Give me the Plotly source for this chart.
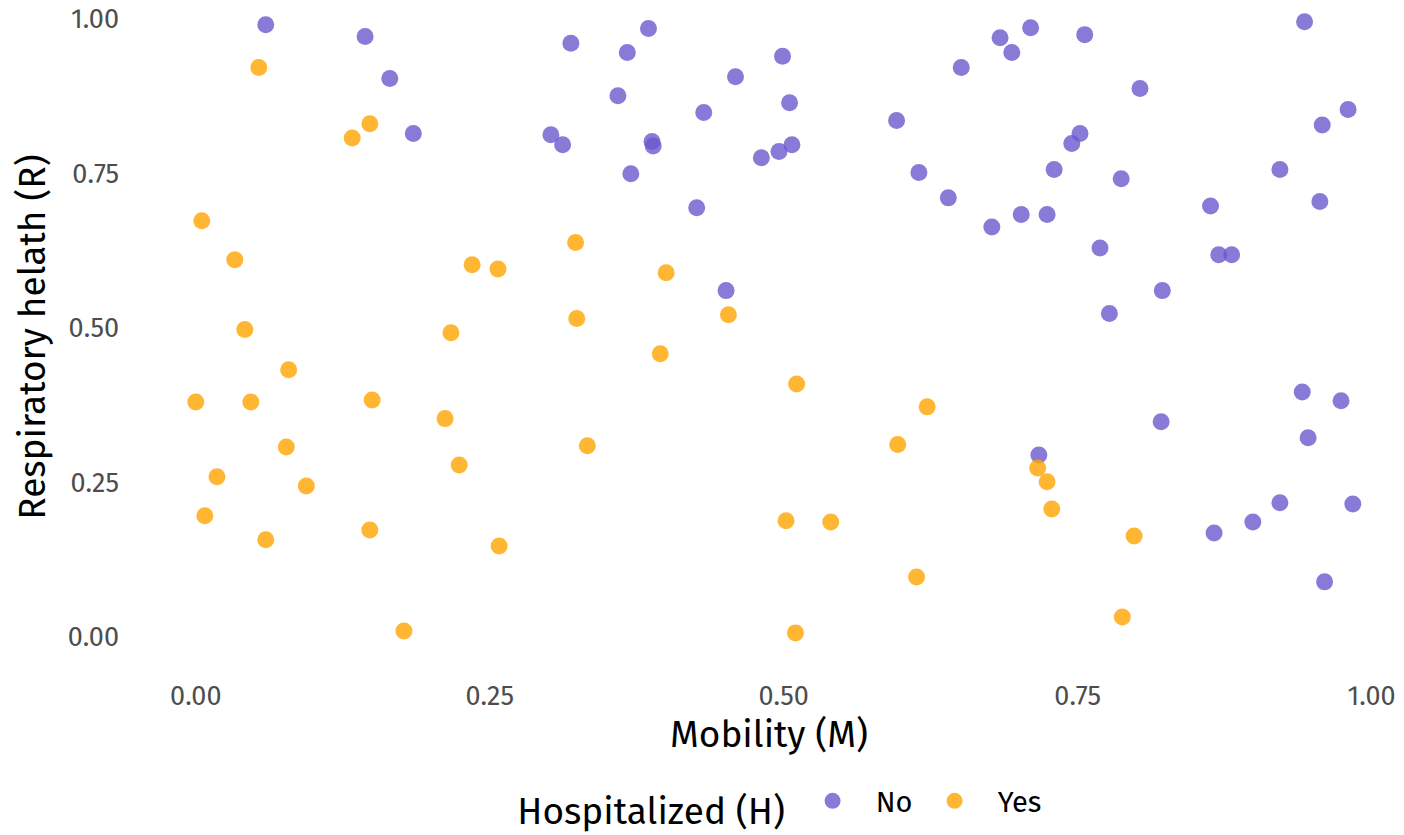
import plotly.graph_objects as go

# Hospitalized = No
no_m = [0.0595, 0.144, 0.165, 0.185, 0.319, 0.367, 0.385, 0.359, 0.302, 0.312,
        0.388, 0.389, 0.370, 0.432, 0.459, 0.426, 0.451, 0.499, 0.505, 0.481,
        0.496, 0.507, 0.596, 0.615, 0.640, 0.651, 0.677, 0.684, 0.694, 0.710,
        0.702, 0.724, 0.730, 0.745, 0.752, 0.756, 0.769, 0.777, 0.787, 0.803,
        0.822, 0.821, 0.717, 0.863, 0.870, 0.881, 0.866, 0.899, 0.922, 0.922,
        0.943, 0.958, 0.980, 0.956, 0.941, 0.946, 0.974, 0.984, 0.960]
no_r = [0.990, 0.971, 0.903, 0.814, 0.960, 0.945, 0.984, 0.875, 0.812, 0.796,
        0.801, 0.794, 0.749, 0.848, 0.906, 0.694, 0.560, 0.939, 0.864, 0.775,
        0.785, 0.796, 0.835, 0.751, 0.710, 0.921, 0.663, 0.969, 0.945, 0.985,
        0.683, 0.683, 0.756, 0.798, 0.814, 0.974, 0.629, 0.523, 0.741, 0.887,
        0.560, 0.348, 0.294, 0.697, 0.618, 0.618, 0.168, 0.186, 0.756, 0.217,
        0.995, 0.828, 0.853, 0.704, 0.396, 0.322, 0.382, 0.215, 0.089]

# Hospitalized = Yes
yes_m = [0.0536, 0.0051, 0.0332, 0.0417, 0.000, 0.0468, 0.079, 0.077, 0.018, 0.094,
         0.0077, 0.0595, 0.133, 0.148, 0.150, 0.148, 0.177, 0.212, 0.217, 0.235,
         0.224, 0.257, 0.258, 0.323, 0.324, 0.333, 0.400, 0.395, 0.453, 0.511,
         0.502, 0.540, 0.510, 0.597, 0.622, 0.613, 0.716, 0.724, 0.728, 0.798,
         0.788]
yes_r = [0.921, 0.673, 0.610, 0.497, 0.380, 0.380, 0.432, 0.307, 0.259, 0.244,
         0.196, 0.157, 0.807, 0.830, 0.383, 0.173, 0.0097, 0.353, 0.492, 0.602,
         0.278, 0.595, 0.147, 0.638, 0.515, 0.309, 0.589, 0.458, 0.521, 0.409,
         0.188, 0.186, 0.0065, 0.311, 0.372, 0.097, 0.273, 0.251, 0.207, 0.163,
         0.032]

ticks = [0, 0.25, 0.5, 0.75, 1.0]
tick_labels = ["0.00", "0.25", "0.50", "0.75", "1.00"]

font_family = "Fira Sans, Noto Sans, sans-serif"
nb = "\u00a0"

fig = go.Figure()
fig.add_trace(go.Scatter(
    x=no_m, y=no_r, mode="markers", name=nb * 3 + "No",
    marker=dict(color="#6A5ACD", size=17, opacity=0.8, line=dict(width=0)),
))
fig.add_trace(go.Scatter(
    x=yes_m, y=yes_r, mode="markers", name=nb * 3 + "Yes",
    marker=dict(color="#FFA500", size=17, opacity=0.8, line=dict(width=0)),
))

fig.update_layout(
    width=1404, height=835,
    margin=dict(l=137, r=3, t=0, b=161),
    plot_bgcolor="white", paper_bgcolor="white",
    font=dict(family=font_family, color="black"),
    legend=dict(
        orientation="h", xref="container", yref="container",
        x=0.560, xanchor="center", y=0.036, yanchor="middle",
        title=dict(text="Hospitalized (H)" + nb * 2, font=dict(size=37)),
        font=dict(size=29),
        itemwidth=30, entrywidth=77, entrywidthmode="pixels",
    ),
)
fig.update_xaxes(
    range=[-0.05, 1.025], showgrid=False, zeroline=False, showline=False,
    tickvals=ticks, ticktext=tick_labels, automargin=False,
    tickfont=dict(size=27, color="#4D4D4D"), ticks="", ticklabelstandoff=3,
    title=dict(text="Mobility (M)", font=dict(size=37), standoff=8),
)
fig.update_yaxes(
    range=[-0.06, 1.03], showgrid=False, zeroline=False, showline=False,
    tickvals=ticks, ticktext=tick_labels, automargin=False,
    tickfont=dict(size=27, color="#4D4D4D"), ticks="", ticklabelstandoff=17,
    title=dict(text="Respiratory helath (R)", font=dict(size=37), standoff=10),
)

fig.write_html(
    "out.html",
    config={"displayModeBar": False},
    post_script="document.body.style.margin = '0';",
)
